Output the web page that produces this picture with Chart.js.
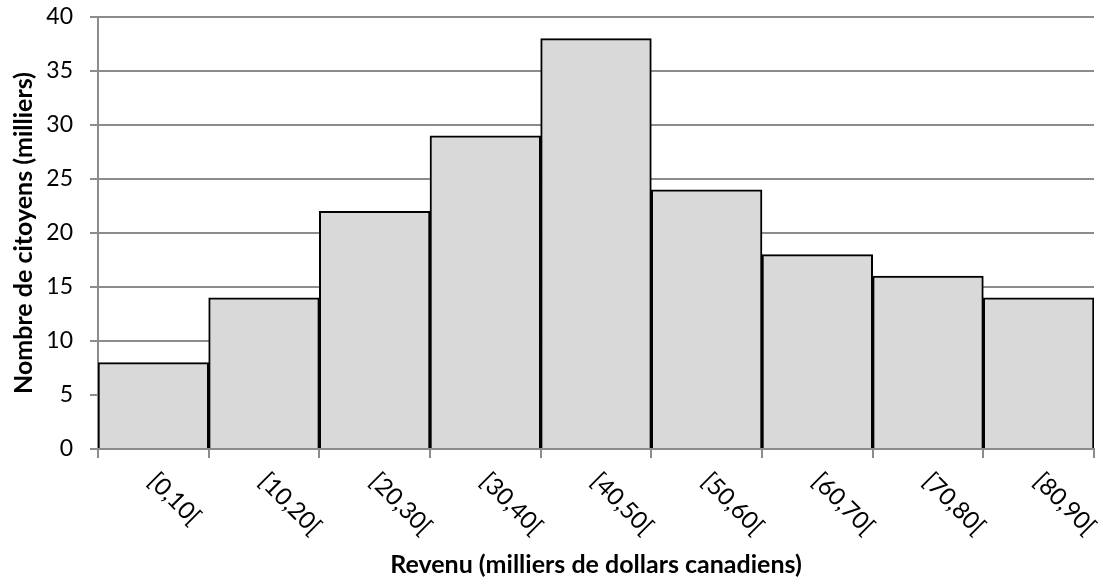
<!DOCTYPE html>
<html><head><meta charset="utf-8">
<script src="https://cdn.jsdelivr.net/npm/chart.js@4"></script>
<style>html,body{margin:0;padding:0;background:#fff}#c{display:block}</style>
</head><body>
<div style="width:1103px;height:584px"><canvas id="c" width="1103" height="584"></canvas></div>
<script>
const categories = ["[0,10[","[10,20[","[20,30[","[30,40[","[40,50[","[50,60[","[60,70[","[70,80[","[80,90["];
const citizens = [8,14,22,29,38,24,18,16,14];
const yTicks = [0,5,10,15,20,25,30,35,40];
const yTitle = "Nombre de citoyens (milliers)";
const xTitle = "Revenu (milliers de dollars canadiens)";
const FONT = "Lato, 'Open Sans', sans-serif";

const rotLabels = {
  id: 'rotLabels',
  afterDraw(chart){
    const ctx = chart.ctx, xs = chart.scales.x, bottom = chart.chartArea.bottom;
    ctx.save();
    ctx.font = "24px " + FONT;
    ctx.fillStyle = "#000";
    ctx.textAlign = "left";
    ctx.textBaseline = "middle";
    categories.forEach((lab,i)=>{
      const x = xs.getPixelForValue(i);
      ctx.save();
      ctx.translate(x - 1, bottom + 28);
      ctx.rotate(Math.PI/4);
      ctx.fillText(lab, 0, 0);
      ctx.restore();
    });
    ctx.restore();
  }
};

new Chart(document.getElementById('c'), {
  type: 'bar',
  data: { labels: categories, datasets: [{ data: citizens, backgroundColor: '#d9d9d9', borderColor: '#000', borderWidth: 2, borderSkipped: 'bottom', barPercentage: 1, categoryPercentage: 1 }] },
  options: {
    responsive: false, animation: false,
    layout: { padding: { top: 17, right: 9, left: 0, bottom: 0 } },
    plugins: { legend: { display: false }, tooltip: { enabled: false } },
    scales: {
      x: {
        afterFit(s){ s.height = 135; s.paddingLeft = 0; s.paddingRight = 0; },
        grid: { drawOnChartArea: false, drawTicks: true, tickLength: 9, color: '#8c8c8c', lineWidth: 2, offset: true },
        border: { color: '#8c8c8c', width: 2 },
        ticks: { color: 'rgba(0,0,0,0)', maxRotation: 0, minRotation: 0, autoSkip: false, font: { size: 10, family: FONT } },
        title: { display: true, text: xTitle, color: '#000', font: { size: 25, weight: 'bold', family: FONT }, padding: { top: 0, bottom: 4 } }
      },
      y: {
        min: 0, max: 40,
        afterFit(s){ s.width = 98; s.paddingTop = 0; s.paddingBottom = 0; },
        afterBuildTicks(s){ s.ticks = yTicks.map(v=>({value:v})); },
        grid: { color: '#8c8c8c', lineWidth: 2, tickLength: 8 },
        border: { color: '#8c8c8c', width: 2 },
        ticks: { color: '#000', padding: 17, font: { size: 23, family: FONT } },
        title: { display: true, text: yTitle, color: '#000', font: { size: 25, weight: 'bold', family: FONT }, padding: { top: 9, bottom: 0 } }
      }
    }
  },
  plugins: [rotLabels]
});
</script>
</body></html>
